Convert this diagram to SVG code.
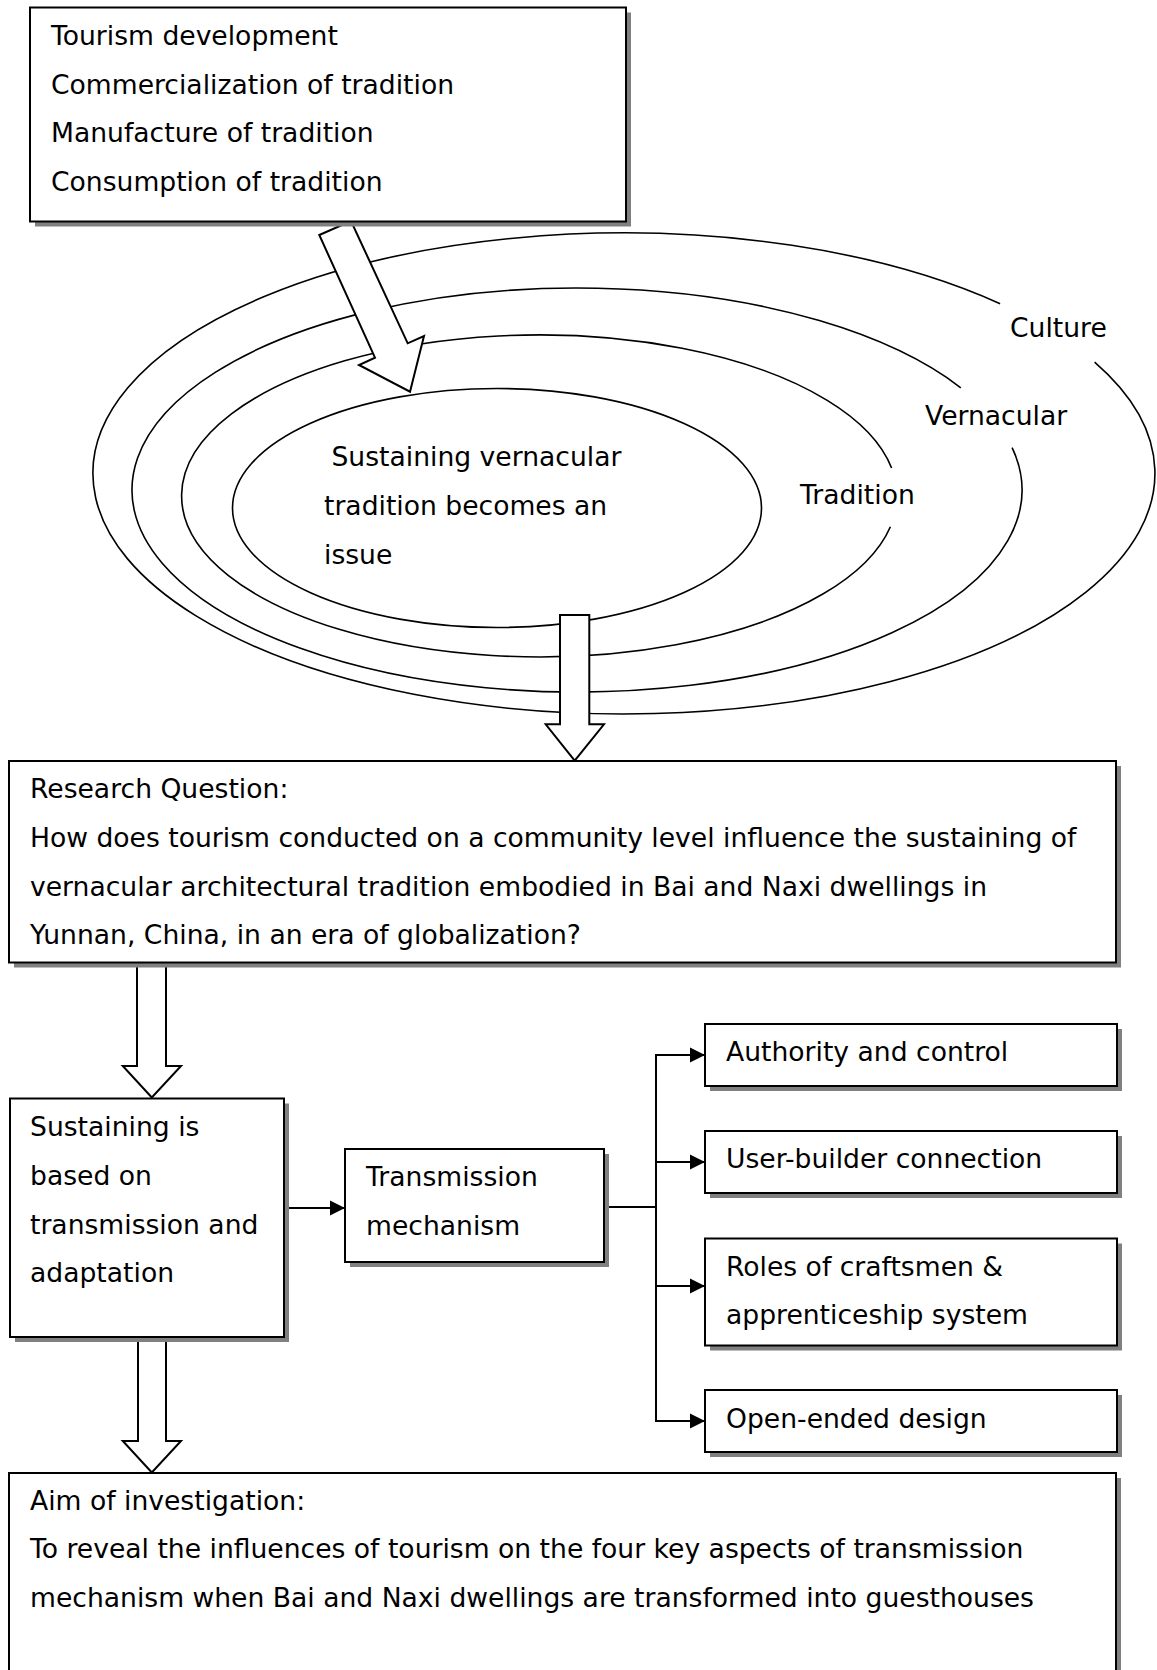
<svg xmlns="http://www.w3.org/2000/svg" width="1157" height="1670" viewBox="0 0 1157 1670">
<style>
  text { font-family: "DejaVu Sans", Verdana, sans-serif; font-size: 26.6px; fill: #000; }
  .box { fill: #fff; stroke: #000; stroke-width: 2; }
  .shadow { fill: #808080; stroke: none; }
  .ring { fill: none; stroke: #000; stroke-width: 1.6; }
  .block { fill: #fff; stroke: #000; stroke-width: 2; stroke-linejoin: miter; }
  .line { fill: none; stroke: #000; stroke-width: 2; }
</style>
<defs>
  <marker id="ah" markerUnits="userSpaceOnUse" markerWidth="16" markerHeight="16" refX="15" refY="8" orient="auto">
    <path d="M0,0.5 L15,8 L0,15.5 Z" fill="#000"/>
  </marker>
</defs>
<rect width="1157" height="1670" fill="#fff"/>

<g id="layers">
  <g id="culture">
    <path class="ring" d="M 1094.6 362.1 A 531 240.5 0 1 1 1000.1 303.7"/>
    <text x="1010" y="337">Culture</text>
  </g>
  <g id="vernacular">
    <path class="ring" d="M 1012.1 447.7 A 445 202 0 1 1 960.8 387.8"/>
    <text x="925" y="425">Vernacular</text>
  </g>
  <g id="tradition">
    <path class="ring" d="M 890.4 526.7 A 357.7 161 0 1 1 891.6 468"/>
    <text x="800" y="504">Tradition</text>
  </g>
  <g id="issue">
    <ellipse class="ring" cx="497" cy="508" rx="264.5" ry="119.5"/>
    <text x="323" y="466" xml:space="preserve"> Sustaining vernacular</text>
    <text x="324" y="515">tradition becomes an</text>
    <text x="324" y="564">issue</text>
  </g>
</g>

<g id="connectors">
  <polygon class="block" points="319.3,235 351,221 407.7,343.3 424,336 410,391.7 359,365 375,357.7"/>
  <polygon class="block" points="560,615 589.3,615 589.3,724.3 604,724.3 574.7,760.7 545.7,724.3 560,724.3"/>
  <polygon class="block" points="137,966 166,966 166,1066 181,1066 151.8,1097.5 122.8,1066 137,1066"/>
  <polygon class="block" points="138,1338 166,1338 166,1441 181,1441 151.8,1472.5 122.8,1441 138,1441"/>
  <line class="line" x1="286" y1="1208" x2="345" y2="1208" marker-end="url(#ah)"/>
  <line class="line" x1="604" y1="1207" x2="656" y2="1207"/>
  <line class="line" x1="656" y1="1054" x2="656" y2="1422"/>
  <line class="line" x1="655" y1="1055" x2="705" y2="1055" marker-end="url(#ah)"/>
  <line class="line" x1="655" y1="1162" x2="705" y2="1162" marker-end="url(#ah)"/>
  <line class="line" x1="655" y1="1286" x2="705" y2="1286" marker-end="url(#ah)"/>
  <line class="line" x1="655" y1="1421" x2="705" y2="1421" marker-end="url(#ah)"/>
</g>

<g id="tourism">
  <rect class="shadow" x="35" y="12.5" width="596" height="214"/>
  <rect class="box" x="30" y="7.5" width="596" height="214"/>
  <text x="51" y="45">Tourism development</text>
  <text x="51" y="93.5">Commercialization of tradition</text>
  <text x="51" y="142">Manufacture of tradition</text>
  <text x="51" y="190.5">Consumption of tradition</text>
</g>

<g id="research">
  <rect class="shadow" x="14" y="766" width="1107" height="201.5"/>
  <rect class="box" x="9" y="761" width="1107" height="201.5"/>
  <text x="30" y="798">Research Question:</text>
  <text x="30" y="847">How does tourism conducted on a community level influence the sustaining of</text>
  <text x="30" y="895.5">vernacular architectural tradition embodied in Bai and Naxi dwellings in</text>
  <text x="30" y="944">Yunnan, China, in an era of globalization?</text>
</g>

<g id="sustaining">
  <rect class="shadow" x="15" y="1103.5" width="274" height="238.5"/>
  <rect class="box" x="10" y="1098.5" width="274" height="238.5"/>
  <text x="30" y="1135.5">Sustaining is</text>
  <text x="30" y="1184.5">based on</text>
  <text x="30" y="1233.5">transmission and</text>
  <text x="30" y="1281.5">adaptation</text>
</g>

<g id="transmission">
  <rect class="shadow" x="350" y="1154" width="259" height="113"/>
  <rect class="box" x="345" y="1149" width="259" height="113"/>
  <text x="366" y="1186">Transmission</text>
  <text x="366" y="1235">mechanism</text>
</g>

<g id="authority">
  <rect class="shadow" x="710" y="1029" width="412" height="62"/>
  <rect class="box" x="705" y="1024" width="412" height="62"/>
  <text x="726" y="1061">Authority and control</text>
</g>

<g id="userbuilder">
  <rect class="shadow" x="710" y="1136" width="412" height="62"/>
  <rect class="box" x="705" y="1131" width="412" height="62"/>
  <text x="726" y="1168">User-builder connection</text>
</g>

<g id="craftsmen">
  <rect class="shadow" x="710" y="1243.5" width="412" height="107"/>
  <rect class="box" x="705" y="1238.5" width="412" height="107"/>
  <text x="726" y="1276">Roles of craftsmen &amp;</text>
  <text x="726" y="1324">apprenticeship system</text>
</g>

<g id="openended">
  <rect class="shadow" x="710" y="1395" width="412" height="62"/>
  <rect class="box" x="705" y="1390" width="412" height="62"/>
  <text x="726" y="1428">Open-ended design</text>
</g>

<g id="aim">
  <rect class="shadow" x="14" y="1478" width="1107" height="250"/>
  <rect class="box" x="9" y="1473" width="1107" height="250"/>
  <text x="30" y="1509.5">Aim of investigation:</text>
  <text x="30" y="1558">To reveal the influences of tourism on the four key aspects of transmission</text>
  <text x="30" y="1606.5">mechanism when Bai and Naxi dwellings are transformed into guesthouses</text>
</g>
</svg>
